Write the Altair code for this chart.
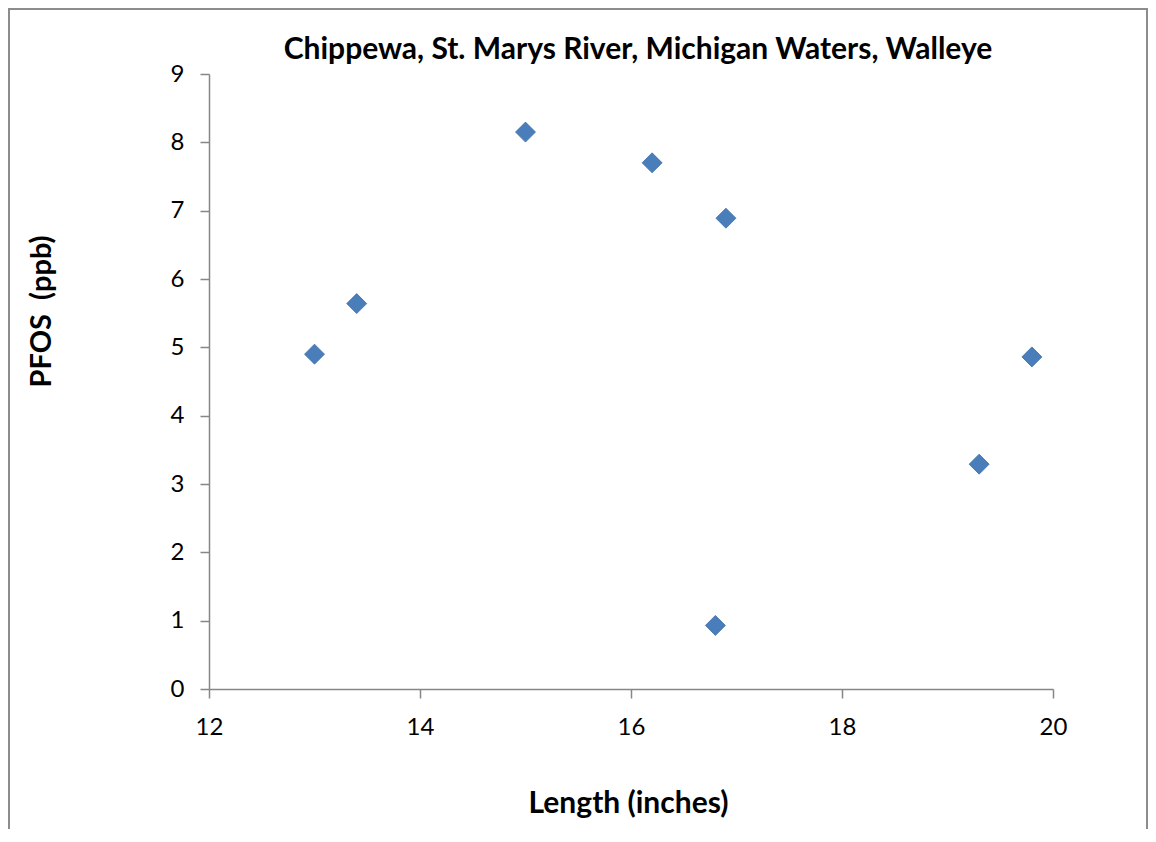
import altair as alt
import pandas as pd

length_in = [13.0, 13.4, 15.0, 16.2, 16.9, 16.8, 19.3, 19.8]
pfos_ppb = [4.90, 5.64, 8.15, 7.70, 6.89, 0.93, 3.29, 4.86]
title_text = ["Chippewa, St. Marys River, Michigan Waters, Walleye"]

df = pd.DataFrame({"Length": length_in, "PFOS": pfos_ppb})

FONT = "Lato"
AXIS_COLOR = "#868686"

W, H = 844, 615

points = alt.Chart(df).mark_point(
    shape="diamond", filled=True, size=400, color="#4A7EBB", opacity=1,
    stroke="#3F6FA8", strokeWidth=0.8
).encode(
    x=alt.X("Length:Q",
            scale=alt.Scale(domain=[12, 20], nice=False, zero=False),
            axis=alt.Axis(values=[12, 14, 16, 18, 20], title="Length (inches)",
                          grid=False, domainColor=AXIS_COLOR, tickColor=AXIS_COLOR,
                          tickSize=9, tickWidth=1.5, domainWidth=1.5,
                          labelFont=FONT, labelFontSize=24, labelColor="black",
                          labelPadding=17, labelFlush=False,
                          titleFont=FONT, titleFontSize=30, titleFontWeight="bold",
                          titleColor="black", titleY=114, titleBaseline="middle",
                          titleX=628 - 209)),
    y=alt.Y("PFOS:Q",
            scale=alt.Scale(domain=[0, 9], nice=False, zero=True),
            axis=alt.Axis(values=list(range(0, 10)), title="PFOS\u00a0\u00a0(ppb)",
                          grid=False, domainColor=AXIS_COLOR, tickColor=AXIS_COLOR,
                          tickSize=9, tickWidth=1.5, domainWidth=1.5,
                          labelFont=FONT, labelFontSize=24, labelColor="black",
                          labelPadding=16, labelFlush=False,
                          titleFont=FONT, titleFontSize=29, titleFontWeight="bold",
                          titleColor="black", titleAngle=270, titleAlign="center",
                          titleBaseline="middle", titleX=-168, titleY=237)),
)

border = alt.Chart(pd.DataFrame({"a": [0]})).mark_rect(
    fill=None, stroke="#8C8C8C", strokeWidth=2
).encode(
    x=alt.value(-200), x2=alt.value(938),
    y=alt.value(-65), y2=alt.value(800),
)

title = alt.Chart(pd.DataFrame({"t": title_text})).mark_text(
    font=FONT, fontSize=30, fontWeight="bold", color="black",
    align="center", baseline="middle"
).encode(
    text="t:N",
    x=alt.value(638 - 209),
    y=alt.value(50 - 74),
)

chart = alt.layer(border, points, title).properties(
    width=W, height=H,
    padding={"left": 201, "top": 66, "right": 95, "bottom": 140},
    autosize=alt.AutoSizeParams(type="none"),
).configure(background="white").configure_view(stroke=None)

chart.save("out.html", embed_options={"renderer": "svg", "actions": False})
